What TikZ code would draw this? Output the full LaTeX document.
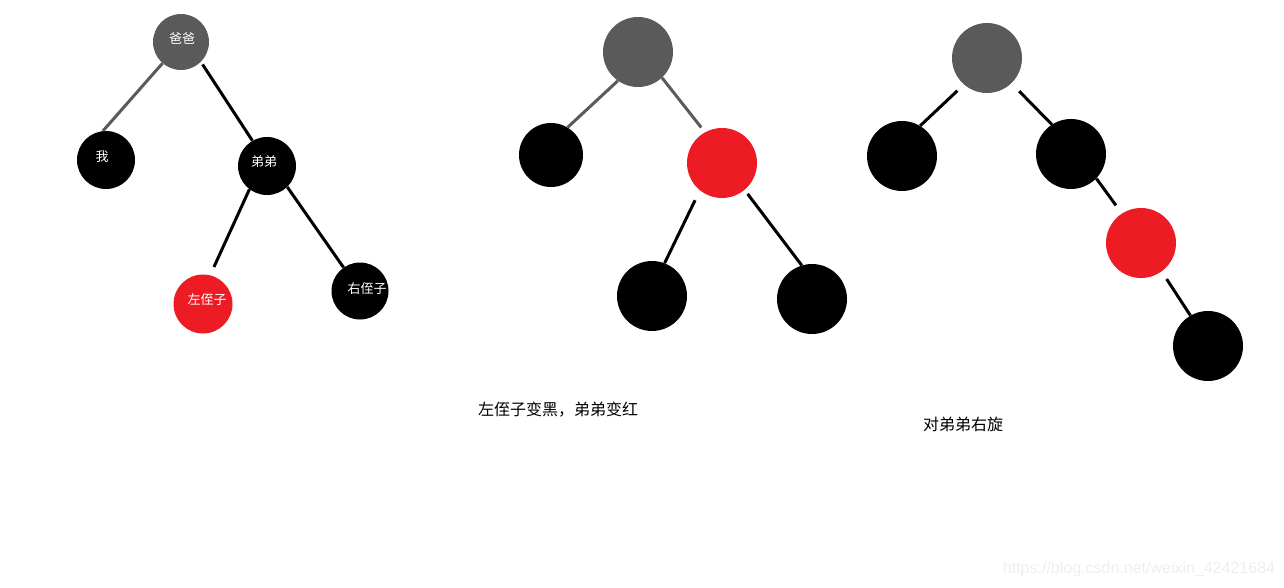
\documentclass[tikz,border=0pt]{standalone}
\usepackage{fontspec}
\setmainfont{Liberation Sans}
\newfontfamily\cjk{Noto Sans CJK SC}
\definecolor{nodegray}{HTML}{5A5A5A}
\definecolor{nodered}{HTML}{ED1C24}
\definecolor{wmgray}{HTML}{EEEEEE}
\begin{document}
\begin{tikzpicture}[x=1pt,y=-1pt,
  rb/.style={circle,inner sep=0pt,draw=none,minimum size=#1},
  blk/.style={rb=#1,fill=black},
  gry/.style={rb=#1,fill=nodegray},
  rdn/.style={rb=#1,fill=nodered},
  lbl/.style={text=white,font=\cjk\fontsize{13}{15}\selectfont,inner sep=0pt},
  captxt/.style={text=black,font=\cjk\fontsize{16}{18}\selectfont,inner sep=0pt},
  bedge/.style={line width=3pt,draw=black},
  gedge/.style={line width=3pt,draw=nodegray}]
\path[use as bounding box] (0,0) rectangle (1284,588);

% ---- tree 1
\node[gry=56pt] (p1) at (181,42) {};
\node[blk=58pt] (m1) at (106,160) {};
\node[blk=58pt] (b1) at (267,166) {};
\node[rdn=58pt,minimum height=59pt] (l1) at (203,304) {};
\node[blk=57pt] (r1) at (360,291) {};
\node[lbl] (tp1) at (182,38) {爸爸};
\node[lbl] (tm1) at (102,157) {我};
\node[lbl] (tb1) at (264,162) {弟弟};
\node[lbl] (tl1) at (207,300) {左侄子};
\node[lbl] (tr1) at (367,289) {右侄子};
\draw[gedge] (p1.-131) -- (m1.96);
\draw[bedge,shorten <=3pt] (p1.-45) -- (b1.120);
\draw[bedge,shorten >=9pt] (b1.-127) -- (l1.76);
\draw[bedge] (b1.-46) -- (r1.125);

% ---- tree 2
\node[gry=70pt] (p2) at (638,52) {};
\node[blk=64pt] (m2) at (551,155) {};
\node[rdn=70pt] (b2) at (722,163) {};
\node[blk=70pt] (l2) at (652,296) {};
\node[blk=70pt] (r2) at (812,299) {};
\draw[gedge] (p2.-125) -- (m2.59);
\draw[gedge,shorten >=6pt] (p2.-47) -- (b2.119);
\draw[bedge,shorten <=11pt] (b2.-129) -- (l2.69);
\draw[bedge,shorten <=5pt] (b2.-50) -- (r2.107);
\node[captxt] (c2) at (558,410) {左侄子变黑，弟弟变红};

% ---- tree 3
\node[gry=70pt] (p3) at (987,58) {};
\node[blk=70pt] (m3) at (902,156) {};
\node[blk=70pt] (b3) at (1071,154) {};
\node[rdn=70pt] (l3) at (1141,243) {};
\node[blk=70pt] (r3) at (1208,346) {};
\draw[bedge,shorten <=9pt] (p3.-131) -- (m3.59);
\draw[bedge,shorten <=11pt] (p3.-46) -- (b3.123);
\draw[bedge,shorten >=10pt] (b3.-44) -- (l3.123);
\draw[bedge,shorten <=9pt] (l3.-54) -- (r3.120);
\node[captxt] (c3) at (963,424) {对弟弟右旋};

% ---- watermark
\node[text=wmgray,font=\fontsize{16}{18}\selectfont,inner sep=0pt] (wm) at (1139,569) {https://blog.csdn.net/weixin\_42421684};
\end{tikzpicture}
\end{document}
